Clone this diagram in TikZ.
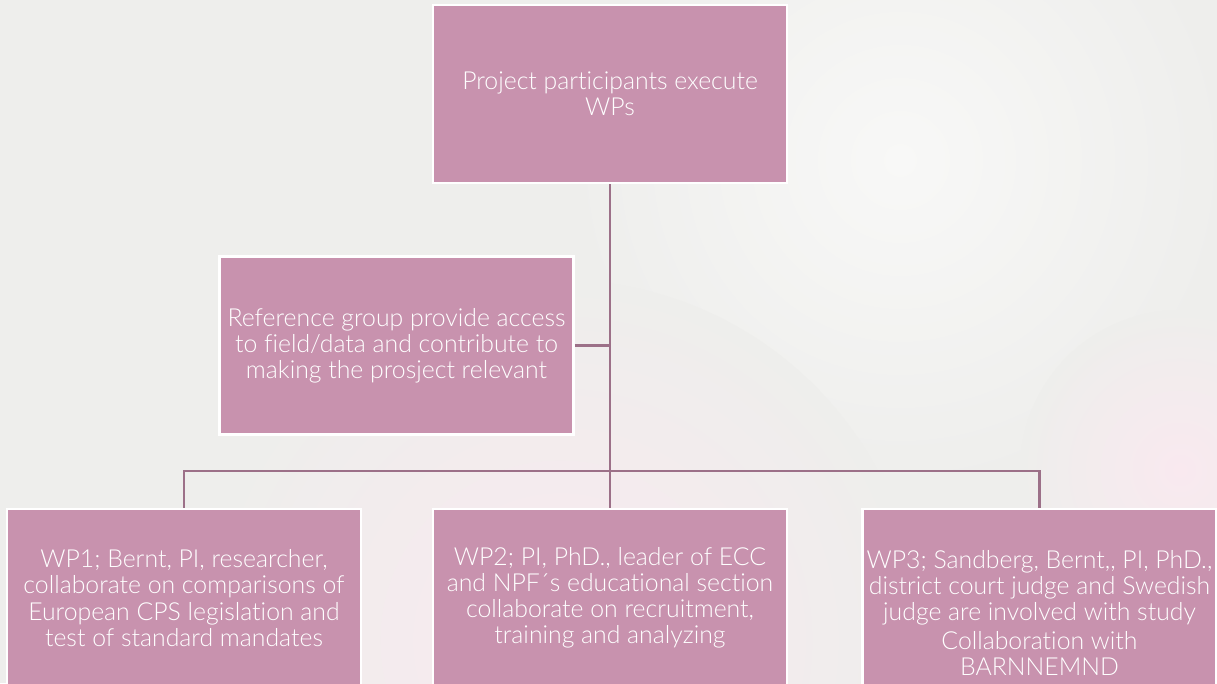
\documentclass[tikz,border=0pt]{standalone}
\usepackage{fontspec}
\setmainfont{Lato Light}[Ligatures={NoCommon}]
\usetikzlibrary{positioning}
\definecolor{mauve}{HTML}{C892AE}
\definecolor{linkcol}{HTML}{9C7088}
\definecolor{bggrey}{HTML}{EEEEEC}
\definecolor{bgpink}{HTML}{F9E9EF}
\definecolor{bgwhite}{HTML}{F8F8F7}
\tikzset{
  wpbox/.style={draw=white,line width=2pt,fill=mauve,text=white,
    minimum width=265.5pt,minimum height=133.5pt,inner sep=0pt,
    align=center,font=\fontsize{18.6}{19.6}\selectfont},
  link/.style={draw=linkcol,line width=2pt}
}
\begin{document}
\begin{tikzpicture}[x=0.75pt,y=-0.75pt]
\useasboundingbox (0,0) rectangle (1217,683);
\clip (0,0) rectangle (1217,683);
% faded photo behind the chart
\fill[bggrey] (0,0) rectangle (1217,683);
\shade[inner color=bgwhite,outer color=bggrey] (900,160) circle (330);
\shade[inner color=bgpink,outer color=bggrey] (560,640) circle (360);
\shade[inner color=bgpink,outer color=bggrey] (1180,470) circle (160);
% boxes
\node[wpbox] (top) at (610,94) {Project participants execute\\WPs};
\node[wpbox] (ref) at (396.5,345.5) {Reference group provide access\\to field/data and contribute to\\making the prosject relevant};
\node[wpbox] (wpA) at (184,598) {WP1; Bernt, PI, researcher,\\collaborate on comparisons of\\European CPS legislation and\\test of standard mandates};
\node[wpbox] (wpB) at (610,598) {WP2; PI, PhD., leader of ECC\\and NPF´s educational section\\collaborate on recruitment,\\training and analyzing};
\node[wpbox] (wpC) at (1039.5,598) {\rule{0pt}{36pt}WP3; Sandberg, Bernt,{}, PI, PhD.,\\district court judge and Swedish\\judge are involved with study\\[2pt]Collaboration with\\BARNNEMND};
\coordinate (bus) at (610,471);
% connectors
\draw[link] (top.south) -- (wpB.north);
\draw[link] (ref.east) -- (ref.east -| top.south);
\draw[link] (wpA.north) -- (wpA.north |- bus) -- (wpC.north |- bus) -- (wpC.north);
\end{tikzpicture}
\end{document}
